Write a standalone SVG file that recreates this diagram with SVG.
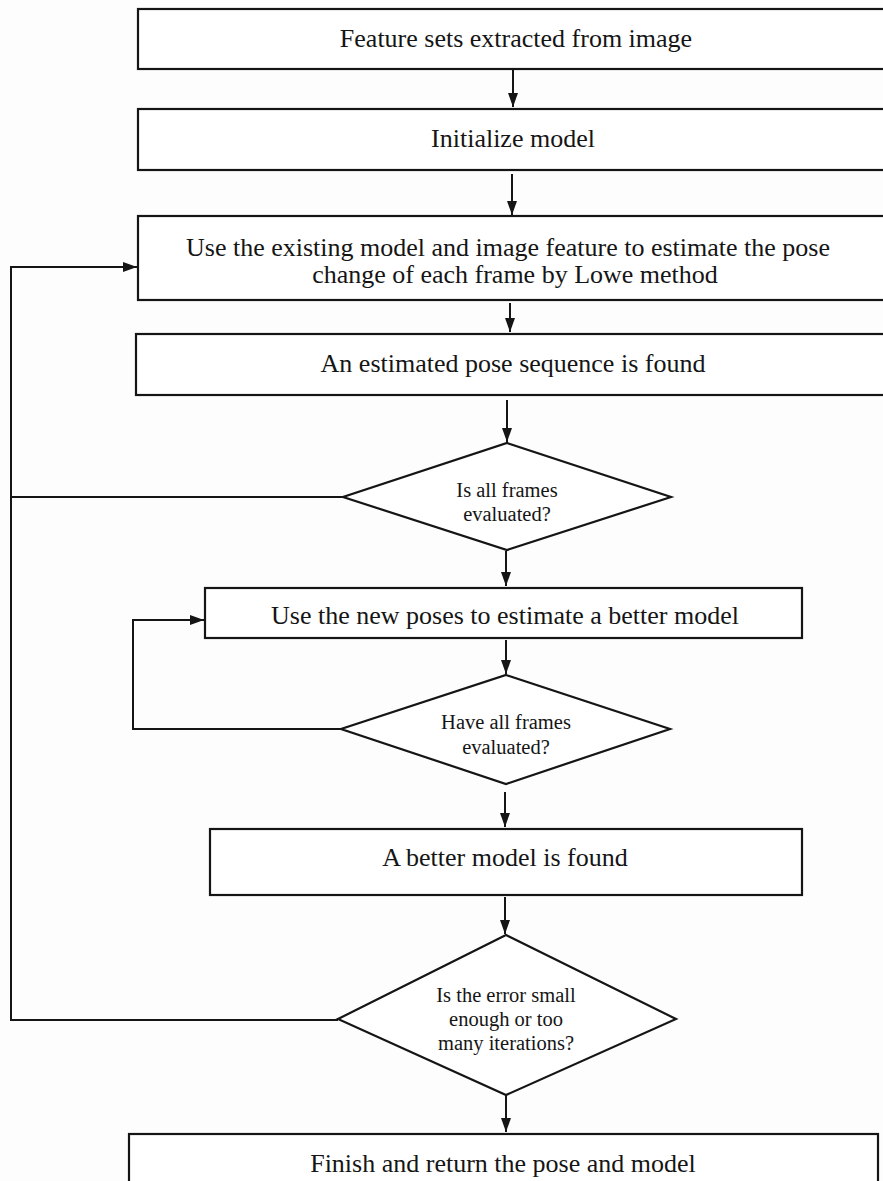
<svg xmlns="http://www.w3.org/2000/svg" width="883" height="1181" viewBox="0 0 883 1181">
<defs>
<marker id="ah" viewBox="0 0 10 10" refX="10" refY="5" markerWidth="7" markerHeight="5" markerUnits="strokeWidth" orient="auto" preserveAspectRatio="none">
<path d="M0,0 L10,5 L0,10 z" fill="#151515"/>
</marker>
<style>
.box{fill:#fff;stroke:#151515;stroke-width:2.2}
.t{font-family:"Liberation Serif","Times New Roman",serif;fill:#151515;text-anchor:middle}
.b{font-size:26px}
.d{font-size:20.5px}
.c{fill:none;stroke:#151515;stroke-width:2}
</style>
</defs>
<rect width="883" height="1181" fill="#fdfdfd"/>
<g id="connectors">
<line class="c" x1="513" y1="70" x2="513" y2="107" marker-end="url(#ah)"/>
<line class="c" x1="512" y1="174" x2="512" y2="215" marker-end="url(#ah)"/>
<line class="c" x1="510" y1="303" x2="510" y2="332" marker-end="url(#ah)"/>
<line class="c" x1="507" y1="400" x2="507" y2="442" marker-end="url(#ah)"/>
<line class="c" x1="506" y1="551" x2="506" y2="586" marker-end="url(#ah)"/>
<line class="c" x1="506" y1="640" x2="506" y2="674" marker-end="url(#ah)"/>
<line class="c" x1="505" y1="792" x2="505" y2="827" marker-end="url(#ah)"/>
<line class="c" x1="505" y1="897" x2="505" y2="934" marker-end="url(#ah)"/>
<line class="c" x1="506" y1="1095" x2="506" y2="1132" marker-end="url(#ah)"/>
<polyline class="c" points="338,1020 11,1020 11,267 137,267" marker-end="url(#ah)"/>
<line class="c" x1="343" y1="497" x2="11" y2="497"/>
<polyline class="c" points="341,729 133,729 133,620 204,620" marker-end="url(#ah)"/>
</g>
<g id="n1">
<rect class="box" x="138" y="9" width="760" height="60"/>
<text class="t b" x="516" y="47">Feature sets extracted from image</text>
</g>
<g id="n2">
<rect class="box" x="138" y="109" width="760" height="61"/>
<text class="t b" x="513" y="147">Initialize model</text>
</g>
<g id="n3">
<rect class="box" x="138" y="216" width="760" height="84"/>
<text class="t b" x="508" y="256">Use the existing model and image feature to estimate the pose</text>
<text class="t b" x="515" y="283">change of each frame by Lowe method</text>
</g>
<g id="n4">
<rect class="box" x="136" y="334" width="760" height="61"/>
<text class="t b" x="513" y="372">An estimated pose sequence is found</text>
</g>
<g id="n5">
<polygon class="box" points="507,443 671,497 507,550 343,497"/>
<text class="t d" x="507" y="497">Is all frames</text>
<text class="t d" x="507" y="521">evaluated?</text>
</g>
<g id="n6">
<rect class="box" x="205" y="588" width="597" height="50"/>
<text class="t b" x="505" y="624">Use the new poses to estimate a better model</text>
</g>
<g id="n7">
<polygon class="box" points="506,675 670,729 506,784 341,729"/>
<text class="t d" x="506" y="729">Have all frames</text>
<text class="t d" x="506" y="754">evaluated?</text>
</g>
<g id="n8">
<rect class="box" x="210" y="829" width="592" height="66"/>
<text class="t b" x="505" y="866">A better model is found</text>
</g>
<g id="n9">
<polygon class="box" points="506,935 676,1019 506,1095 338,1019"/>
<text class="t d" x="506" y="1002">Is the error small</text>
<text class="t d" x="506" y="1026">enough or too</text>
<text class="t d" x="506" y="1050">many iterations?</text>
</g>
<g id="n10">
<rect class="box" x="129" y="1134" width="749" height="60"/>
<text class="t b" x="503" y="1172">Finish and return the pose and model</text>
</g>
</svg>
